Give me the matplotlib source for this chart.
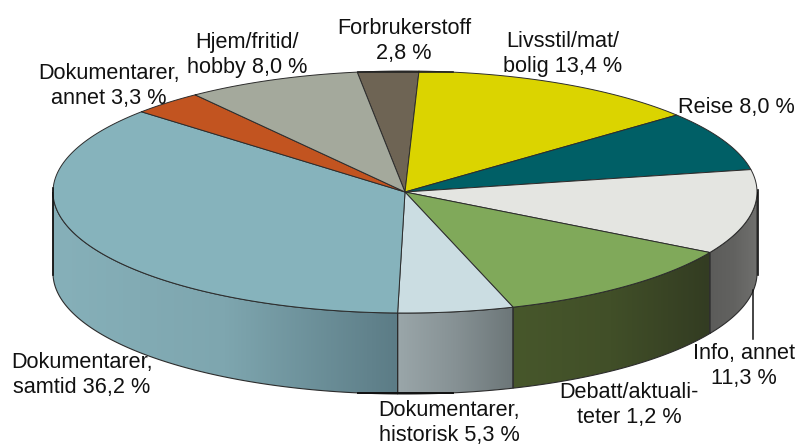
import numpy as np
import matplotlib
matplotlib.use("Agg")
import matplotlib.pyplot as plt
from matplotlib.patches import Polygon
from matplotlib.colors import LinearSegmentedColormap

plt.rcParams['font.family'] = ['Liberation Sans', 'DejaVu Sans']

# clockwise from the Forbrukerstoff slice; Debatt is printed "1,2 %" but drawn larger
names = ['Forbrukerstoff', 'Livsstil', 'Reise', 'Info', 'Debatt', 'Historisk', 'Samtid', 'Annet', 'Hjem']
values = [2.8, 13.4, 8.0, 11.3, 11.7, 5.3, 36.2, 3.3, 8.0]
labels = ['Forbrukerstoff\n2,8 %', 'Livsstil/mat/\nbolig 13,4 %', 'Reise 8,0 %',
          'Info, annet\n11,3 %', 'Debatt/aktuali-\nteter 1,2 %', 'Dokumentarer,\nhistorisk 5,3 %',
          'Dokumentarer,\nsamtid 36,2 %', 'Dokumentarer,\nannet 3,3 %', 'Hjem/fritid/\nhobby 8,0 %']
colors = ['#6e6454', '#dbd400', '#005f66', '#e4e5e1', '#80a95a', '#cbdde2', '#86b3bc', '#c25420', '#a4a99c']
side_left = ['#6e6454', '#dbd400', '#005f66', '#5c5c5a', '#47572b', '#9aa6a9', '#86b0b9', '#c25420', '#a4a99c']
side_mid = ['#6e6454', '#dbd400', '#005f66', '#626260', '#414f28', '#869194', '#7ea6af', '#c25420', '#a4a99c']
side_right = ['#6e6454', '#dbd400', '#005f66', '#70706e', '#333c22', '#6c7678', '#5c7c86', '#c25420', '#a4a99c']
label_x = [404, 563, 736, 744, 629, 449, 82, 109, 247]
label_y = [41, 54, 108, 366, 405, 423, 375, 86, 55]

cx, cy, rx, ry = 405, 192, 352, 121
depth = 81
start = -7.8
edge = '#2c2c2c'


def ell(t, dy=0):
    t = np.radians(t)
    return cx + rx * np.sin(t), cy - ry * np.cos(t) + dy


fig = plt.figure(figsize=(7.99, 4.46), dpi=100)
ax = fig.add_axes([0, 0, 1, 1])
ax.set_xlim(0, 799)
ax.set_ylim(446, 0)
ax.axis('off')

bounds = start + np.cumsum([0] + values) * 3.6

# side wall of the front half
for i in range(len(values)):
    a = max(bounds[i], 90)
    b = min(bounds[i + 1], 270)
    if b <= a:
        continue
    t = np.linspace(a, b, 120)
    x, y = ell(t)
    x2, y2 = ell(t[::-1], depth)
    pts = np.column_stack([np.r_[x, x2], np.r_[y, y2]])
    poly = Polygon(pts, closed=True, fc='none', ec=edge, lw=0.8, zorder=3)
    ax.add_patch(poly)
    cmap = LinearSegmentedColormap.from_list('s', [side_left[i], side_mid[i], side_right[i]])
    grad = np.linspace(0, 1, 200).reshape(1, -1)
    im = ax.imshow(grad, extent=[pts[:, 0].min(), pts[:, 0].max(), pts[:, 1].max(), pts[:, 1].min()],
                   cmap=cmap, aspect='auto', zorder=2)
    im.set_clip_path(poly)

# top face
for i in range(len(values)):
    t = np.linspace(bounds[i], bounds[i + 1], 120)
    x, y = ell(t)
    ax.fill(np.r_[cx, x], np.r_[cy, y], fc=colors[i], ec=edge, lw=0.7, zorder=4, joinstyle='round')

# the black bits left by the old export
ax.plot([53, 53], [188, 275], color='#111111', lw=1.2, zorder=5)
ax.plot([758, 758], [190, 275], color='#111111', lw=1.2, zorder=5)
ax.plot([358, 453], [71.5, 71.5], color='#222222', lw=1.2, zorder=5)
ax.plot([358, 453], [392.5, 392.5], color='#111111', lw=1.4, zorder=5)
ax.plot([753, 753], [290, 339], color='#111111', lw=1.1, zorder=5)

for i in range(len(labels)):
    ax.text(label_x[i], label_y[i], labels[i], ha='center', va='center', fontsize=15.6,
            color='#111111', linespacing=1.24, zorder=6)

fig.savefig('out.png', dpi=100)
